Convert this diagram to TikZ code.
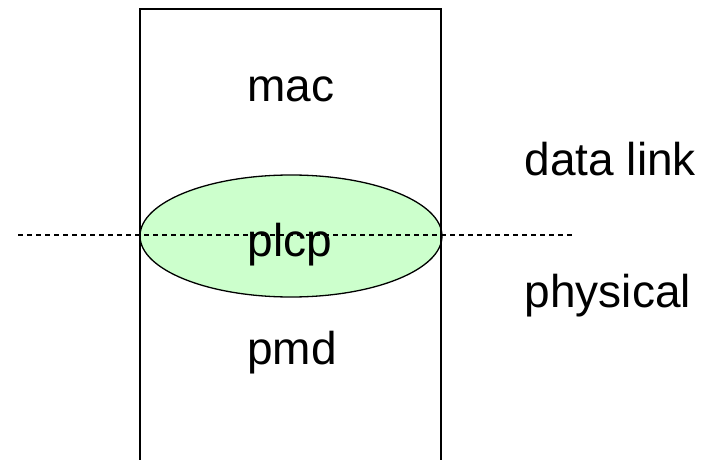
\documentclass[tikz,border=0pt]{standalone}
\usepackage{fontspec}
\setmainfont{Liberation Sans}
\usetikzlibrary{shapes.geometric}
\definecolor{plcpgreen}{RGB}{204,255,204}

\begin{document}
\begin{tikzpicture}[x=1pt,y=-1pt,line width=1.3pt,
        layertext/.style={font=\fontsize{46}{50}\selectfont,anchor=base,inner sep=0pt},
        plcpshape/.style={ellipse,draw,fill=plcpgreen,minimum width=302pt,minimum height=122pt,inner sep=0pt}]
                \useasboundingbox (0,0) rectangle (707,460);
                \node[plcpshape] (plcp) at (291,236) {};
                \draw (140,461) |- (441,9) -- (441,461);
                \coordinate (dashL) at (18,235);
                \coordinate (dashR) at (572,235);
                \draw[dash pattern=on 5pt off 4pt,line width=1.3pt] (dashL)--(dashR);
                \node[layertext] (mac) at (291,102) {mac};
                \node[layertext] (plcptext) at (290,256) {plcp};
                \node[layertext] (pmd) at (292,364) {pmd};
                \node[layertext,anchor=base west] (datalink) at (524,175) {data link};
                \node[layertext,anchor=base west] (physical) at (524,307) {physical};
            \end{tikzpicture}
\end{document}
